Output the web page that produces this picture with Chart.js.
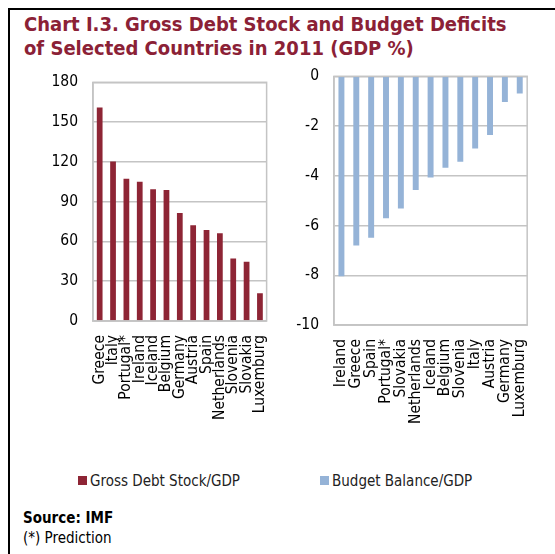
<!DOCTYPE html>
<html>
<head>
<meta charset="utf-8">
<script src="https://cdn.jsdelivr.net/npm/chart.js@4/dist/chart.umd.min.js"></script>
<style>
  html, body { margin: 0; padding: 0; background: #fff; }
  #page { position: relative; width: 555px; height: 554px; overflow: hidden; font-family: "DejaVu Sans Condensed", "DejaVu Sans", sans-serif; }
  #frame { position: absolute; left: 8px; top: 8px; width: 560px; height: 560px; border-left: 2.5px solid #000; border-top: 2.5px solid #000; }
  #title { position: absolute; left: 24px; top: 12px; color: #8b2136; font-weight: bold; font-size: 20px; line-height: 24px; white-space: nowrap; }
  .wrap { position: absolute; }
  .legend { position: absolute; top: 472px; font-size: 15px; color: #222; white-space: nowrap; }
  .legend i { display: inline-block; width: 9px; height: 9px; margin-right: 3px; vertical-align: 1px; }
  #src { position: absolute; left: 23px; top: 508px; font-size: 15px; line-height: 20px; color: #000; }
</style>
</head>
<body>
<div id="page">
  <div id="frame"></div>
  <div id="title">Chart I.3. Gross Debt Stock and Budget Deficits<br>of Selected Countries in 2011 (GDP %)</div>
  <div class="wrap" style="left:40px;top:58px;width:245px;height:392px;"><canvas id="debtChart"></canvas></div>
  <div class="wrap" style="left:290px;top:52px;width:255px;height:400px;"><canvas id="balanceChart"></canvas></div>
  <div class="legend" style="left:78px;"><i style="background:#8e2535"></i>Gross Debt Stock/GDP</div>
  <div class="legend" style="left:320px;"><i style="background:#95b3d7"></i>Budget Balance/GDP</div>
  <div id="src"><b>Source: IMF</b><br>(*) Prediction</div>
</div>
<script>
const debtCountries = ['Greece', 'Italy', 'Portugal*', 'Ireland', 'Iceland', 'Belgium', 'Germany', 'Austria', 'Spain', 'Netherlands', 'Slovenia', 'Slovakia', 'Luxemburg'];
const debtValues = [161, 120.3, 107.2, 105, 99.4, 98.7, 81.4, 72.2, 68.6, 66.2, 47.2, 44.6, 20.9];
const debtTicks = [0, 30, 60, 90, 120, 150, 180];

const balanceCountries = ['Ireland', 'Greece', 'Spain', 'Portugal*', 'Slovakia', 'Netherlands', 'Iceland', 'Belgium', 'Slovenia', 'Italy', 'Austria', 'Germany', 'Luxemburg'];
const balanceValues = [-8.04, -6.8, -6.49, -5.71, -5.32, -4.57, -4.07, -3.68, -3.44, -2.9, -2.36, -1.03, -0.69];
const balanceTicks = [-10, -8, -6, -4, -2, 0];

const FONT = 'DejaVu Sans Condensed';
const GRID = '#c4c4c4';

// box around the plot area, like the Excel frame
const plotBox = {
  id: 'plotBox',
  afterDraw(chart) {
    const a = chart.chartArea;
    const ctx = chart.ctx;
    ctx.save();
    ctx.strokeStyle = GRID;
    ctx.lineWidth = 1.5;
    ctx.strokeRect(a.left, a.top, a.right - a.left, a.bottom - a.top);
    ctx.restore();
  }
};

function makeChart(id, labels, values, ticks, color, yWidth, xHeight, pad, barPct) {
  return new Chart(document.getElementById(id), {
    type: 'bar',
    data: {
      labels: labels,
      datasets: [{
        data: values,
        backgroundColor: color,
        barPercentage: barPct,
        categoryPercentage: 1
      }]
    },
    options: {
      responsive: true,
      maintainAspectRatio: false,
      animation: false,
      layout: { padding: pad },
      plugins: { legend: { display: false }, tooltip: { enabled: false } },
      scales: {
        x: {
          grid: { display: false },
          border: { color: GRID, width: 1.5 },
          ticks: {
            color: '#000', font: { family: FONT, size: 15.5 },
            maxRotation: 90, minRotation: 90, padding: 6, autoSkip: false
          },
          afterFit(s) { s.height = xHeight; }
        },
        y: {
          min: ticks[0],
          max: ticks[ticks.length - 1],
          afterBuildTicks(s) { s.ticks = ticks.map(v => ({ value: v })); },
          grid: { color: GRID, lineWidth: 1.5, drawTicks: false },
          border: { color: GRID, width: 1.5 },
          ticks: { color: '#000', font: { family: FONT, size: 15.5 }, padding: 15 },
          afterFit(s) { s.width = yWidth; }
        }
      }
    },
    plugins: [plotBox]
  });
}

makeChart('debtChart', debtCountries, debtValues, debtTicks, '#8e2535', 53, 129,
  { top: 13, right: 12, left: 0, bottom: 0 }, 0.43);
makeChart('balanceChart', balanceCountries, balanceValues, balanceTicks, '#95b3d7', 44, 127,
  { top: 13, right: 17, left: 0, bottom: 0 }, 0.4);
</script>
</body>
</html>
